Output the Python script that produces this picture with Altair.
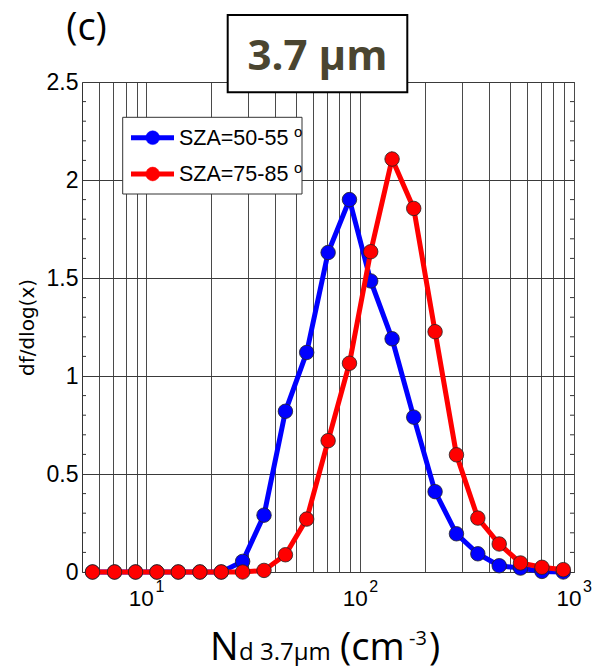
import altair as alt
import pandas as pd

# ---------------- data ----------------
nd_centers = [5.6, 7.1, 8.9, 11.2, 14.1, 17.8, 22.4, 28.2, 35.5, 44.7, 56.2, 70.8, 89.1,
              112, 141, 178, 224, 282, 355, 447, 562, 708, 891]
sza_50_55 = [0, 0, 0, 0, 0, 0, 0, 0.054, 0.29, 0.82, 1.12, 1.63, 1.90, 1.485, 1.19, 0.79,
             0.41, 0.195, 0.093, 0.032, 0.02, 0.003, 0.0]
sza_75_85 = [0, 0, 0, 0, 0, 0, 0, 0, 0.008, 0.088, 0.27, 0.67, 1.065, 1.634, 2.107, 1.855,
             1.226, 0.598, 0.275, 0.143, 0.046, 0.024, 0.012]
series_labels = ["SZA=50-55", "SZA=75-85"]
series_colors = ["#0000ff", "#ff0000"]
degree_mark = "o"

x_grid = [6, 7, 8, 9, 10, 20, 30, 40, 50, 60, 70, 80, 90,
          100, 200, 300, 400, 500, 600, 700, 800, 900, 1000]
x_major = [10, 100, 1000]
x_major_base = ["10", "10", "10"]
x_major_exp = ["1", "2", "3"]
y_ticks = [0, 0.5, 1, 1.5, 2, 2.5]
y_minor = [0.1, 0.2, 0.3, 0.4, 0.6, 0.7, 0.8, 0.9, 1.1, 1.2, 1.3, 1.4,
           1.6, 1.7, 1.8, 1.9, 2.1, 2.2, 2.3, 2.4]
panel_tag = "(c)"
title_text = "3.7 μm"
y_title = "df/dlog(x)"
xtitle_parts = ["N", "d 3.7μm", "(cm", "-3", ")"]

W, H = 492, 490
AX_FONT = "Liberation Sans"
CAL_FONT = "Open Sans"

df = pd.DataFrame({
    "Nd": nd_centers * 2,
    "f": sza_50_55 + sza_75_85,
    "series": [series_labels[0]] * len(nd_centers) + [series_labels[1]] * len(nd_centers),
})

x_enc = alt.X(
    "Nd:Q",
    scale=alt.Scale(type="log", domain=[5, 1000], nice=False),
    axis=alt.Axis(
        values=x_grid, labels=False,
        tickSize=0, domain=False,
        grid=True, gridColor="#4a4a4a", gridWidth=1, gridOpacity=1,
        title="",
    ),
)
y_enc = alt.Y(
    "f:Q",
    scale=alt.Scale(domain=[0, 2.5], nice=False),
    axis=alt.Axis(
        values=y_ticks, format="~g",
        labelFont=AX_FONT, labelFontSize=23, labelColor="black",
        labelPadding=4, tickSize=0, domain=False,
        grid=True, gridColor="#3a3a3a", gridWidth=1, gridOpacity=1,
        title=y_title, titleFont="DejaVu Sans", titleFontSize=20, titleFontWeight="normal",
        titleColor="black", titleAngle=270, titleX=-55, titleY=H / 2,
        titleAlign="center", titleBaseline="middle",
    ),
)

layers = []

# minor ticks (inside, both sides)
minor_df = pd.DataFrame({"f": y_minor})
layers.append(alt.Chart(minor_df).mark_rule(color="#333", strokeWidth=1).encode(
    y=y_enc, x=alt.value(0), x2=alt.value(4)))
layers.append(alt.Chart(minor_df).mark_rule(color="#333", strokeWidth=1).encode(
    y=y_enc, x=alt.value(W - 4), x2=alt.value(W)))

# x tick labels 10^n (base + superscript exponent)
xl_df = pd.DataFrame({"Nd": x_major, "b": x_major_base, "e": x_major_exp})
layers.append(alt.Chart(xl_df).mark_text(font=AX_FONT, fontSize=22.5, color="black",
                                         align="center", baseline="alphabetic", dx=-5).encode(
    x=x_enc, y=alt.value(H + 34), text="b:N"))
layers.append(alt.Chart(xl_df).mark_text(font=AX_FONT, fontSize=16, color="black",
                                         align="center", baseline="alphabetic", dx=13.5).encode(
    x=x_enc, y=alt.value(H + 19.7), text="e:N"))

# series
for lbl, col in zip(series_labels, series_colors):
    sub = alt.Chart(df).transform_filter(alt.datum.series == lbl)
    layers.append(sub.mark_line(color=col, strokeWidth=5).encode(x=x_enc, y=y_enc))
    layers.append(sub.mark_point(shape="circle", filled=True, fill=col, stroke="#222",
                                 strokeWidth=0.8, size=210, opacity=1).encode(x=x_enc, y=y_enc))

one = pd.DataFrame({"k": [0]})

# legend
layers.append(alt.Chart(one).mark_rect(fill="white", stroke="#333", strokeWidth=1).encode(
    x=alt.value(40.7), x2=alt.value(220), y=alt.value(35.3), y2=alt.value(112)))
row_y = [55.7, 92]
for i, (lbl, col) in enumerate(zip(series_labels, series_colors)):
    ry = row_y[i]
    ldf = pd.DataFrame({"t": [lbl], "d": [degree_mark]})
    layers.append(alt.Chart(ldf).mark_rule(color=col, strokeWidth=5).encode(
        x=alt.value(49), x2=alt.value(92), y=alt.value(ry)))
    layers.append(alt.Chart(ldf).mark_point(shape="circle", filled=True, fill=col, stroke=col,
                                            strokeWidth=0.5, size=190, opacity=1).encode(
        x=alt.value(70.7), y=alt.value(ry)))
    layers.append(alt.Chart(ldf).mark_text(font=AX_FONT, fontSize=21.5, align="left",
                                           baseline="middle", color="black").encode(
        x=alt.value(97), y=alt.value(ry + 1), text="t:N"))
    layers.append(alt.Chart(ldf).mark_text(font=AX_FONT, fontSize=15, align="left",
                                           baseline="middle", color="black").encode(
        x=alt.value(212), y=alt.value(ry - 6), text="d:N"))

# title box
layers.append(alt.Chart(one).mark_rect(fill="white", stroke="black", strokeWidth=2).encode(
    x=alt.value(145.7), x2=alt.value(325.3), y=alt.value(-67), y2=alt.value(10.3)))
layers.append(alt.Chart(pd.DataFrame({"t": [title_text]})).mark_text(
    font=CAL_FONT, fontSize=42, fontWeight="bold", color="#4a4530",
    align="center", baseline="alphabetic").encode(
    x=alt.value(235.5), y=alt.value(-12), text="t:N"))

# panel tag
layers.append(alt.Chart(pd.DataFrame({"t": [panel_tag]})).mark_text(
    font=CAL_FONT, fontSize=38, color="black", align="center", baseline="alphabetic").encode(
    x=alt.value(4.5), y=alt.value(-42), text="t:N"))

# x-axis title pieces
xt_styles = [  # (x, y, size)
    (128, 578, 38),
    (157, 578, 24),
    (258, 578, 38),
    (327, 563, 20),
    (347, 578, 38),
]
for part, (px, py, fs) in zip(xtitle_parts, xt_styles):
    layers.append(alt.Chart(pd.DataFrame({"t": [part]})).mark_text(
        font=CAL_FONT, fontSize=fs, color="black", align="left", baseline="alphabetic").encode(
        x=alt.value(px), y=alt.value(py), text="t:N"))

chart = alt.layer(*layers).properties(
    width=W, height=H,
    autosize=alt.AutoSizeParams(type="none"),
    padding={"left": 82, "top": 82, "right": 20, "bottom": 100},
).configure_view(stroke="#333", strokeWidth=1)

chart.save("out.html", embed_options={"renderer": "svg", "actions": False})
